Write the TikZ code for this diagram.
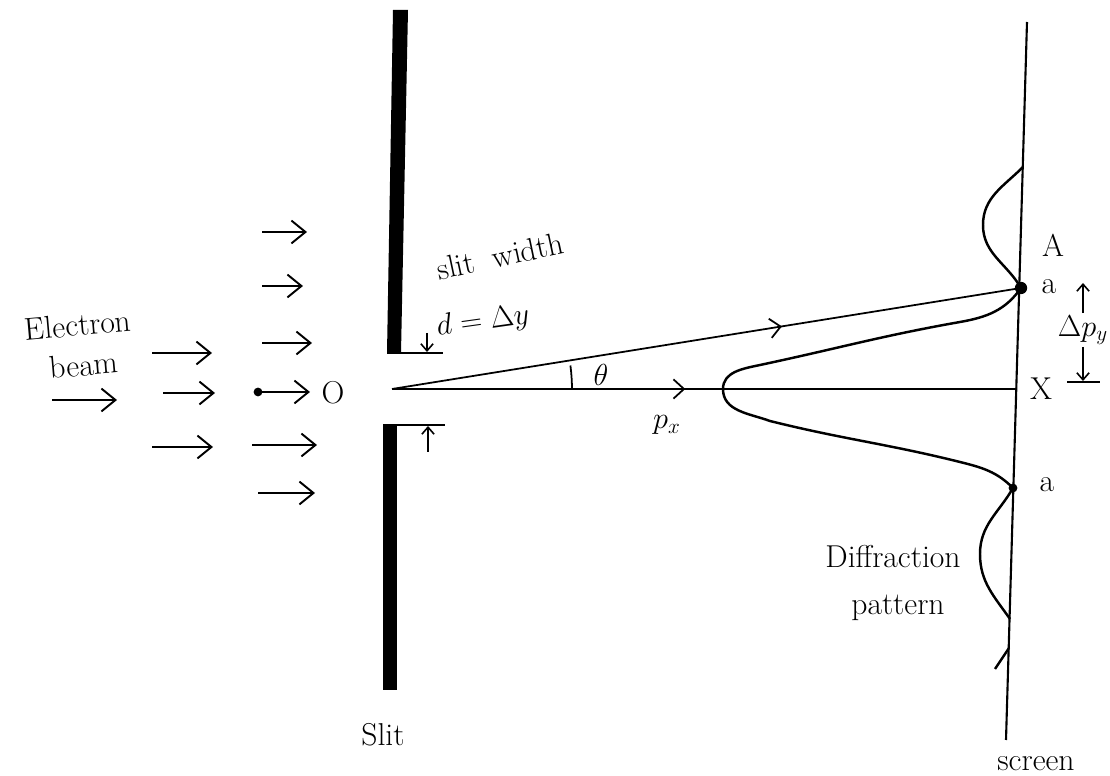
\documentclass[tikz,border=0pt]{standalone}
\usepackage{tikz}
\usetikzlibrary{arrows.meta, calc, decorations.markings}
\usepackage{amsmath, amssymb}

\begin{document}
\begin{tikzpicture}[x=0.02cm, y=-0.02cm,
  lbl/.style={font=\fontsize{18}{18}\selectfont, inner sep=1pt},
  beam/.style={line width=1.1pt, -{Straight Barb[length=8pt, width=13pt]}},
  tick/.style={line width=0.9pt, -{Straight Barb[length=4pt, width=7pt]}},
  ray/.style={line width=1pt},
  curve/.style={line width=1.4pt, line join=round},
  midarrow/.style={postaction={decorate}, decoration={markings, mark=at position #1 with {\arrow{Straight Barb[length=6pt, width=11pt]}}}}
]
  \useasboundingbox (0,0) rectangle (1110,776);

  % main points
  \coordinate (o) at (392,389);
  \coordinate (scrtop) at (1027,22);
  \coordinate (scrbot) at (1006,740);
  \coordinate (xpt) at (1016,389);
  \coordinate (aup) at (1021,288);
  \coordinate (alow) at (1013,488);

  % slit plates
  \fill (393,10) -- (408,10) -- (401,353) -- (387,353) -- cycle;
  \fill (383,425) -- (397,425) -- (397,690) -- (383,690) -- cycle;
  \coordinate (ledgeup) at (387,353);
  \coordinate (ledgedn) at (383,425);
  \draw[ray] (ledgeup) -- ++(56,0);
  \draw[ray] (ledgedn) -- ++(62,0);
  \coordinate (dtop) at (427,333);
  \coordinate (dbot) at (428,452);
  \draw[tick] (dtop) -- (427,352);
  \draw[tick] (dbot) -- (428,426);

  % electron beam
  \foreach \xa/\xb/\yy in {262/307/232, 262/303/286, 262/312/343, 258/310/392, 252/317/445, 258/315/493,
                           152/212/353, 163/215/393, 152/213/447, 52/117/400}
    \draw[beam] (\xa,\yy) -- (\xb,\yy);
  \fill (258,392) circle[radius=2.5pt];
  \node[lbl] (orig) at (333,393) {O};

  % rays and angle
  \draw[ray, midarrow=0.62] (o) -- (aup);
  \draw[ray, midarrow=0.47] (o) -- (xpt);
  \draw[ray] ($(o)+(3.6cm,0)$) arc[start angle=0, end angle=7.5, radius=3.6cm];

  % screen and pattern
  \draw[line width=1.2pt] (scrtop) -- (scrbot);
  \fill (aup) circle[radius=3.5pt];
  \fill (alow) circle[radius=2.5pt];
  \draw[curve] (aup) to[out=235, in=10] (960,322) to[out=190, in=12] (760,365)
    to[out=192, in=90] (723,389) to[out=270, in=160] (770,421)
    to[out=-14, in=166] (960,462) to[out=-14, in=135] (alow);
  \draw[curve] (1023,167) to[out=225, in=90] (983,225) to[out=270, in=120] (aup);
  \draw[curve] (alow) to[out=240, in=90] (980,554) to[out=270, in=125] (1010,619);
  \draw[curve] (1009,648) -- (995,669);

  % labels
  \node[lbl, rotate=5] (elec) at (78,325) {Electron};
  \node[lbl, rotate=5] (beamlbl) at (84,365) {beam};
  \node[lbl, rotate=12] (sw) at (500,256) {slit\hspace{5pt} width};
  \node[lbl, rotate=8] (dy) at (483,322) {$d=\Delta y$};
  \node[lbl] (theta) at (601,375) {$\theta$};
  \node[lbl] (px) at (667,425) {$p_x$};
  \node[lbl] (lA) at (1053,245) {A};
  \node[lbl] (la1) at (1049,287) {a};
  \node[lbl] (lx) at (1041,389) {X};
  \node[lbl] (la2) at (1047,485) {a};
  \node[lbl] (diff) at (893,557) {Diffraction};
  \node[lbl] (patt) at (898,608) {pattern};
  \node[lbl] (slit) at (383,735) {Slit};
  \node[lbl] (scr) at (1036,764) {screen};

  % momentum spread
  \node[lbl] (dpy) at (1083,330) {$\Delta p_y$};
  \coordinate (dpytop) at (1083,283);
  \coordinate (dpybot) at (1083,381);
  \draw[tick] (dpy.north) -- (dpytop);
  \draw[tick] (dpy.south) -- (dpybot);
  \draw[ray] (1067,382) -- (1100,382);
\end{tikzpicture}
\end{document}
